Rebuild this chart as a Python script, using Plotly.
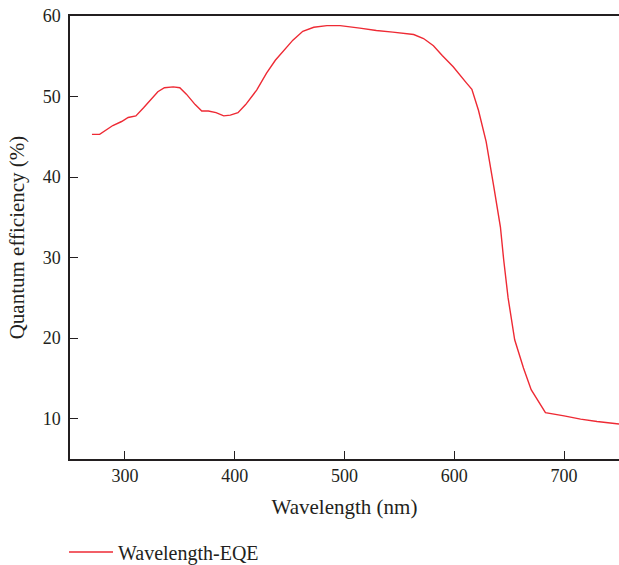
import plotly.graph_objects as go

wavelength = [270, 277, 289, 297, 303, 310, 317, 330, 336, 344, 350, 356, 364, 370, 376,
              383, 390, 396, 403, 410, 420, 429, 437, 446, 453, 462, 472, 484, 496, 514,
              529, 544, 563, 572, 581, 589, 599, 611, 616, 622, 629, 636, 642, 645, 649,
              655, 663, 670, 683, 700, 715, 730, 750]
eqe = [45.3, 45.3, 46.4, 46.9, 47.4, 47.6, 48.6, 50.6, 51.1, 51.2, 51.1, 50.3, 49.0, 48.2, 48.2,
       48.0, 47.6, 47.7, 48.0, 49.0, 50.8, 52.9, 54.5, 55.9, 57.0, 58.1, 58.6, 58.8, 58.8, 58.5,
       58.2, 58.0, 57.7, 57.2, 56.3, 55.1, 53.7, 51.7, 50.9, 48.3, 44.4, 38.8, 33.8, 29.7, 25.0,
       19.8, 16.3, 13.6, 10.75, 10.35, 9.95, 9.65, 9.35]
x_ticks = [300, 400, 500, 600, 700]
y_ticks = [10, 20, 30, 40, 50, 60]

ink = "#231f20"
font = "Liberation Serif"

fig = go.Figure()
fig.add_trace(go.Scatter(x=wavelength, y=eqe, mode="lines", name="Wavelength-EQE",
                         line=dict(color="#ee2a34", width=1.4)))

fig.update_layout(
    width=619, height=565,
    margin=dict(l=70, r=0, t=16, b=106, autoexpand=False),
    paper_bgcolor="white", plot_bgcolor="white",
    font=dict(family=font, size=18, color=ink),
    showlegend=True,
    legend=dict(orientation="h", x=-0.0109, xanchor="left", y=-0.21, yanchor="middle",
                itemwidth=44,
                font=dict(family=font, size=20, color=ink), bgcolor="rgba(0,0,0,0)"),
    xaxis=dict(range=[250, 750], tickvals=x_ticks, ticks="inside", ticklen=8, tickwidth=1.3,
               tickcolor=ink, showline=True, linecolor=ink, linewidth=1.5, mirror=True,
               showgrid=False, zeroline=False, automargin=False,
               title=dict(text="Wavelength (nm)", font=dict(family=font, size=21, color=ink), standoff=14),
               tickfont=dict(family=font, size=18, color=ink)),
    yaxis=dict(range=[5, 60], tickvals=y_ticks, ticks="inside", ticklen=8, tickwidth=1.3,
               tickcolor=ink, showline=True, linecolor=ink, linewidth=1.5,
               showgrid=False, zeroline=False, automargin=False, ticklabelstandoff=4,
               title=dict(text="Quantum efficiency (%)", font=dict(family=font, size=21, color=ink), standoff=12),
               tickfont=dict(family=font, size=18, color=ink)),
)

fig.write_html("out.html", config={"displayModeBar": False},
               post_script="document.body.style.margin='0';document.body.style.overflow='hidden';")
